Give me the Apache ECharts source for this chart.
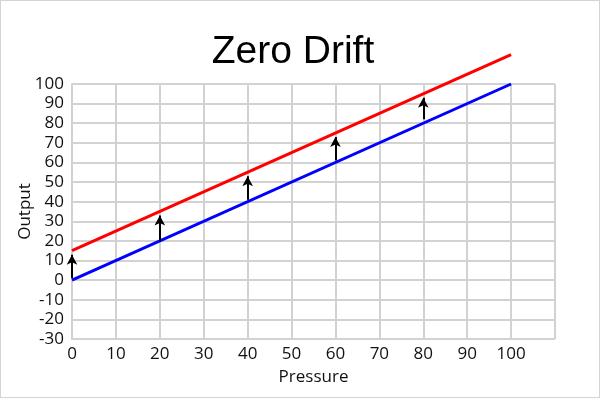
<!DOCTYPE html>
<html>
<head>
<meta charset="utf-8">
<script src="https://cdn.jsdelivr.net/npm/echarts@6/dist/echarts.min.js"></script>
<style>
  html, body { margin: 0; padding: 0; background: #fff; }
  #chart { width: 598px; height: 396px; border: 1px solid #d4d4d4; }
</style>
</head>
<body>
<div id="chart"></div>
<script>
// data
var pressure = [0, 100]
var original = [0, 100]
var drifted = [15, 115]
var arrowX = [0, 20, 40, 60, 80]
var arrowFrom = [1, 20, 41, 61, 82]
var arrowTo = [13, 33, 53, 73, 93]

var chart = echarts.init(document.getElementById('chart'))

var arrows = arrowX.map(function (x, i) {
  return [{ coord: [x, arrowFrom[i]] }, { coord: [x, arrowTo[i]] }]
})

var labelFont = { color: '#111', fontSize: 17, fontFamily: 'Open Sans, Liberation Sans, sans-serif' }
var gridLine = { lineStyle: { color: '#d2d2d2', width: 2 } }

chart.setOption({
  animation: false,
  title: {
    text: 'Zero Drift',
    left: 287,
    top: 27,
    textAlign: 'center',
    textStyle: { fontSize: 39, fontWeight: 'normal', color: '#000', fontFamily: 'Liberation Sans, Arial, sans-serif' }
  },
  grid: { left: 71, right: 44, top: 83, bottom: 58 },
  xAxis: {
    type: 'value',
    min: 0,
    max: 110,
    interval: 10,
    name: 'Pressure',
    nameLocation: 'middle',
    nameGap: 30,
    nameMoveOverlap: false,
    nameTextStyle: labelFont,
    axisLine: gridLine,
    axisTick: { show: false },
    splitLine: gridLine,
    axisLabel: Object.assign({}, labelFont, {
      margin: 7,
      formatter: function (v) { return v > 100 ? '' : v }
    })
  },
  yAxis: {
    type: 'value',
    min: -30,
    max: 100,
    interval: 10,
    name: 'Output',
    nameLocation: 'middle',
    nameGap: 38,
    nameMoveOverlap: false,
    nameTextStyle: labelFont,
    axisLine: gridLine,
    axisTick: { show: false },
    splitLine: gridLine,
    axisLabel: Object.assign({}, labelFont, { margin: 8 })
  },
  series: [
    {
      type: 'line',
      data: pressure.map(function (x, i) { return [x, original[i]] }),
      symbol: 'none',
      clip: false,
      lineStyle: { color: '#0000ff', width: 3 },
      markLine: {
        silent: true,
        symbol: ['none', 'arrow'],
        symbolSize: [8, 10],
        label: { show: false },
        lineStyle: { color: '#000', width: 2, type: 'solid' },
        data: arrows
      }
    },
    {
      type: 'line',
      data: pressure.map(function (x, i) { return [x, drifted[i]] }),
      symbol: 'none',
      clip: false,
      lineStyle: { color: '#ff0000', width: 3 }
    }
  ]
})
</script>
</body>
</html>
